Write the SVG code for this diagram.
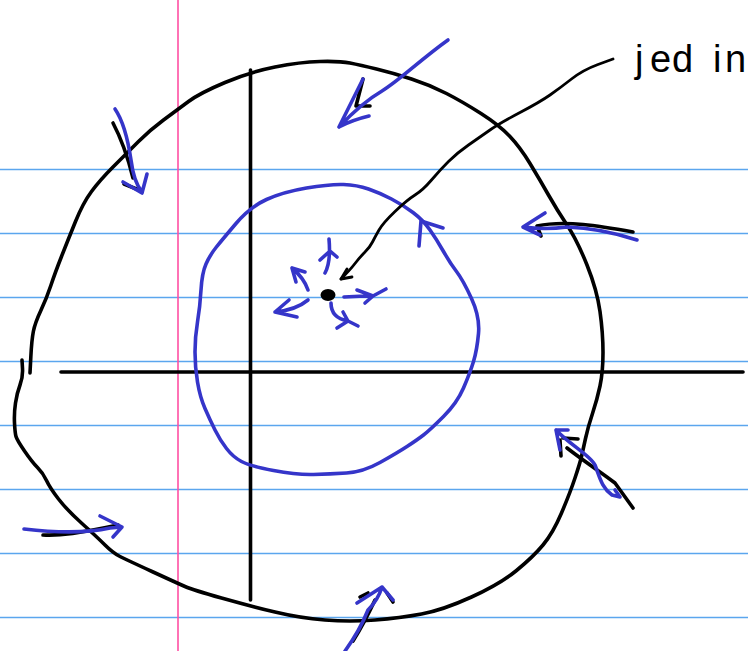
<svg xmlns="http://www.w3.org/2000/svg" width="748" height="651" viewBox="0 0 748 651">
<style>
.rule{stroke:#5ba6ee;stroke-width:1.4;fill:none}
.margin{stroke:#ff4fa3;stroke-width:1.6;fill:none}
.ink{stroke:#000;stroke-width:3.6;fill:none;stroke-linecap:round;stroke-linejoin:round}
.thin{stroke:#000;stroke-width:2.8;fill:none;stroke-linecap:round;stroke-linejoin:round}
.blue{stroke:#3535c9;stroke-width:3.6;fill:none;stroke-linecap:round;stroke-linejoin:round}
.label{font-family:"Liberation Sans","DejaVu Sans",sans-serif;font-size:38px;fill:#000}
</style>
<rect width="748" height="651" fill="#fff"/>
<g id="paper">
<path class="rule" d="M0,169.5H748M0,233.5H748M0,297.5H748M0,361.5H748M0,425.5H748M0,489.5H748M0,553.5H748M0,617.5H748"/>
<path class="margin" d="M178,0V651"/>
</g>
<g id="axes">
<path class="ink" d="M250.5,70V600"/>
<path class="ink" d="M61,372H743"/>
</g>
<g id="outer-boundary">
<path class="ink" d="M30,373 L30.85,356.5 Q31.7,340 33.35,331.5 Q35,323 40.85,310.5 Q46.7,298 50.85,285.5 Q55,273 61.5,256.5 Q68,240 75.5,221.5 Q83,203 91.5,191.5 Q100,180 113.5,166.5 Q127,153 138.5,141.5 Q150,130 163.5,120 Q177,110 188.5,101.5 Q200,93 225,82.5 Q250,72 275,67 Q300,62 320,61.5 Q340,61 350,63 Q360,65 376.5,69 Q393,73 411.5,79 Q430,85 446.5,93.5 Q463,102 481,113.5 Q499,125 509.5,136 Q520,147 530,163.5 Q540,180 548.5,195 Q557,210 567,225 Q577,240 587,265 Q597,290 600,311.5 Q603,333 603,352.5 Q603,372 600,386 Q597,400 592.5,413.5 Q588,427 585.5,438.5 Q583,450 581.5,456.5 Q580,463 575,478 Q570,493 561.5,513 Q553,533 543,545 Q533,557 516.5,570.5 Q500,584 471.5,597 Q443,610 421.5,614 Q400,618 375,620 Q350,622 325,620 Q300,618 275,612 Q250,606 221.5,598 Q193,590 185,586.5 Q177,583 152,571.5 Q127,560 120,556.5 Q113,553 105,545 Q97,537 82,523.5 Q67,510 58.5,499 Q50,488 46.5,480.5 Q43,473 37.5,467.5 Q32,462 24.5,451 Q17,440 16,436.5 Q15,433 14.5,423 Q14,413 15.5,403 Q17,393 20,385 Q23,377 22.5,368.5 L22,360"/>
</g>
<g id="inner-circle">
<path class="blue" d="M236,223.5 Q250,207 266.5,199.5 Q283,192 306.5,188 Q330,184 343.5,184.5 Q357,185 368.5,189 Q380,193 391.5,199 Q403,205 413,212.5 Q423,220 430,230 Q437,240 443.5,251.5 Q450,263 456.5,271.5 Q463,280 471.5,298.5 Q480,317 478.5,333.5 Q477,350 473.5,361.5 Q470,373 463.5,388 Q457,403 443.5,416.5 Q430,430 423.5,435 Q417,440 407,446.5 Q397,453 380,462.5 Q363,472 346.5,473 Q330,474 313.5,474.5 Q297,475 273.5,470.5 Q250,466 241.5,461.5 Q233,457 226.5,448.5 Q220,440 215,430 Q210,420 205,408.5 Q200,397 197.5,382 Q195,367 195,352 Q195,337 197.5,322 Q200,307 201,290 Q202,273 206,264 Q210,255 216,247.5 Q222,240 236,223.5 Z"/>
<path class="blue" d="M443,228 L421,221 L419,246"/>
</g>
<g id="center-point">
<ellipse cx="328" cy="295" rx="7.5" ry="6" fill="#000"/>
</g>
<g id="label">
<text class="label" x="635 650 672 713 725" y="72">jedin</text>
</g>
<g id="connectors">
<path class="thin" d="M613,59 L598,64.5 Q583,70 571.5,79 Q560,88 550,95 Q540,102 520,112.5 Q500,123 490,130 Q480,137 468.5,145 Q457,153 448.5,161.5 Q440,170 431.5,180 Q423,190 415,195 Q407,200 395,211.5 Q383,223 379,230 Q375,237 372.5,242 Q370,247 365,252 Q360,257 355,263.5 Q350,270 341,279"/>
<path class="thin" d="M347,269 L341,279 L352,277"/>
<g id="center-arrows">
<path class="blue" d="M325,273 Q331,262 329,239 M320,260 L330,251 L337,257"/>
<path class="blue" d="M308,290 Q304,278 292,268 M305,272 L292,268 L296,282"/>
<path class="blue" d="M308,300 Q296,310 275,312 M289,300 L275,312 L297,317"/>
<path class="blue" d="M344,297 Q360,296 373,296 L386,289 M357,290 L373,296 L365,303"/>
<path class="blue" d="M331,303 Q331,318 348,321 L358,326 M343,312 L348,321 L337,328"/>
</g>
<g id="outer-arrows">
<path class="ink" d="M113,123 C122,140 128,158 133,178 M124,184 L139,190"/>
<path class="blue" d="M115,109 C124,122 128,140 131,160 C133,176 137,186 142,192 M123,182 L142,193 L147,174"/>
<path class="ink" d="M363,79 L356,106 L370,106"/>
<path class="blue" d="M339,127 C355,110 370,98 382,91 C400,80 420,60 448,40 M339,127 L350,105 L363,79 M339,127 Q352,120 369,116"/>
<path class="ink" d="M541,236 L537,226 C565,220 600,226 633,232"/>
<path class="blue" d="M523,227 Q545,230 567,227 Q600,228 637,240 M545,213 L523,227 L540,235"/>
<path class="ink" d="M560,440 L561,456 M563,438 L578,439 M567,448 C585,462 605,475 615,483 L633,508"/>
<path class="blue" d="M568,430 L556,430 L560,450 M556,430 C570,445 590,455 595,465 C600,478 602,488 612,495 L620,497 L615,490"/>
<path class="ink" d="M360,597 L368,593 M387,593 L393,602 M375,600 C368,615 360,630 353,641"/>
<path class="blue" d="M357,603 L382,587 L393,600 M382,587 C378,600 370,608 368,610 C362,625 353,640 345,651"/>
<path class="ink" d="M43,535 C60,536 80,533 118,525"/>
<path class="blue" d="M24,529 C50,532 83,534 110,528 L122,527 M100,516 L122,527 L113,537"/>
</g>
</g>
</svg>
